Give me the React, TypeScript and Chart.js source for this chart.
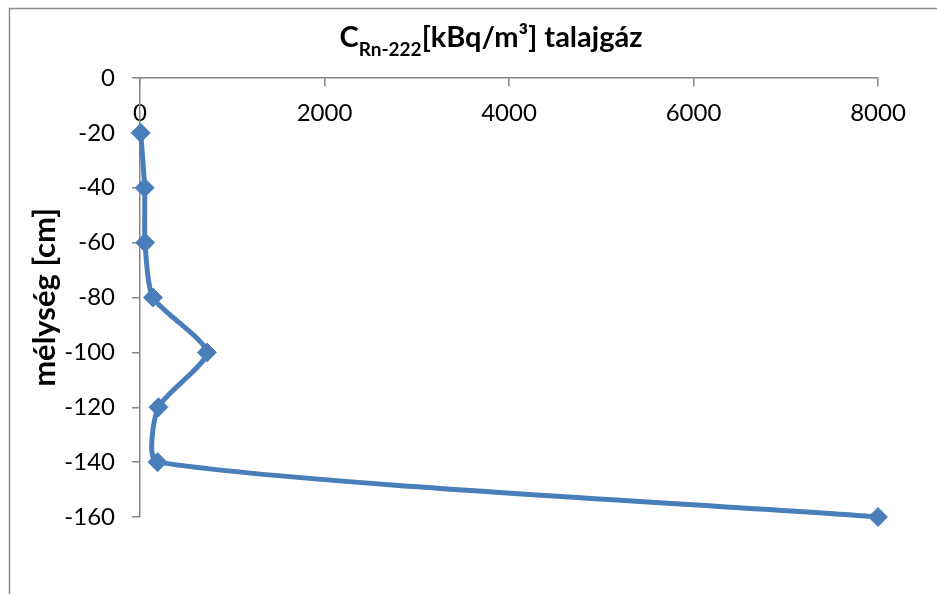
import { useEffect, useRef } from "react";
import { Chart, registerables } from "chart.js";

Chart.register(...registerables);

// ---- data ----
const depthsCm: number[] = [-20, -40, -60, -80, -100, -120, -140, -160];
const radonKBq: number[] = [8, 50, 55, 140, 725, 200, 190, 8000];
const xTickValues: number[] = [0, 2000, 4000, 6000, 8000];
const yTickValues: number[] = [0, -20, -40, -60, -80, -100, -120, -140, -160];
const titleMain = "C";
const titleSub = "Rn-222";
const titleRest = "[kBq/m³] talajgáz";
const yAxisTitle = "mélység [cm]";

const FONT = "Lato, 'Open Sans', sans-serif";
const LINE_BLUE = "#4a7ebb";
const AXIS_GRAY = "#868686";

const framePlugin = {
  id: "frame",
  beforeDraw(chart: any) {
    const ctx = chart.ctx;
    ctx.save();
    ctx.fillStyle = "#ffffff";
    ctx.fillRect(0, 0, chart.width, chart.height);
    ctx.strokeStyle = "#8c8c8c";
    ctx.lineWidth = 1.5;
    ctx.beginPath();
    ctx.moveTo(chart.width + 5, 8.5);
    ctx.lineTo(9.5, 8.5);
    ctx.lineTo(9.5, chart.height + 5);
    ctx.stroke();
    ctx.restore();
  },
};

const titlePlugin = {
  id: "subscriptTitle",
  afterDraw(chart: any) {
    const ctx = chart.ctx;
    ctx.save();
    const big = `bold 29px ${FONT}`;
    const small = `bold 19px ${FONT}`;
    ctx.font = big;
    const w1 = ctx.measureText(titleMain).width;
    const w3 = ctx.measureText(titleRest).width;
    ctx.font = small;
    const w2 = ctx.measureText(titleSub).width;
    const total = w1 + w2 + w3;
    let x = 491 - total / 2;
    ctx.fillStyle = "#000000";
    ctx.textBaseline = "alphabetic";
    ctx.textAlign = "left";
    ctx.font = big;
    ctx.fillText(titleMain, x, 47);
    x += w1;
    ctx.font = small;
    ctx.fillText(titleSub, x, 56);
    x += w2;
    ctx.font = big;
    ctx.fillText(titleRest, x, 47);
    ctx.restore();
  },
};

export default function App() {
  const canvasRef = useRef<HTMLCanvasElement | null>(null);

  useEffect(() => {
    if (!canvasRef.current) return;
    const points = depthsCm.map((d, i) => ({ x: radonKBq[i], y: d }));
    const chart = new Chart(canvasRef.current, {
      type: "scatter",
      data: {
        datasets: [
          {
            label: "C Rn-222",
            data: points,
            showLine: true,
            borderColor: LINE_BLUE,
            backgroundColor: LINE_BLUE,
            borderWidth: 5,
            tension: 0.22,
            pointStyle: "rectRot",
            pointRadius: 9.5,
            pointHoverRadius: 9.5,
            pointBackgroundColor: LINE_BLUE,
            pointBorderColor: LINE_BLUE,
            pointBorderWidth: 1,
            clip: false,
          } as any,
        ],
      },
      options: {
        responsive: false,
        animation: false,
        events: [],
        layout: { padding: { top: 78, right: 59, bottom: 77, left: 0 } },
        plugins: {
          legend: { display: false },
          title: { display: false },
          tooltip: { enabled: false },
        },
        scales: {
          x: {
            type: "linear",
            position: { y: 0 } as any,
            min: 0,
            max: 8000,
            afterBuildTicks: (scale: any) => {
              scale.ticks = xTickValues.map((v) => ({ value: v }));
            },
            afterFit: (scale: any) => {
              scale.paddingLeft = 0;
              scale.paddingRight = 0;
            },
            grid: {
              drawOnChartArea: false,
              drawTicks: true,
              tickLength: 8,
              color: AXIS_GRAY,
              lineWidth: 1.5,
            },
            border: { display: true, color: AXIS_GRAY, width: 1.5 },
            ticks: {
              padding: 13,
              color: "#000000",
              font: { family: FONT, size: 24 },
              maxRotation: 0,
              callback: (v: any) => String(v),
            },
          },
          y: {
            type: "linear",
            position: "left",
            min: -160,
            max: 0,
            afterBuildTicks: (scale: any) => {
              scale.ticks = yTickValues.map((v) => ({ value: v }));
            },
            afterFit: (scale: any) => {
              scale.width = 140;
              scale.paddingTop = 0;
              scale.paddingBottom = 0;
            },
            grid: {
              drawOnChartArea: false,
              drawTicks: true,
              tickLength: 8,
              color: AXIS_GRAY,
              lineWidth: 1.5,
            },
            border: { display: true, color: AXIS_GRAY, width: 1.5 },
            ticks: {
              padding: 17,
              color: "#000000",
              font: { family: FONT, size: 24 },
              callback: (v: any) => String(v),
            },
            title: {
              display: true,
              text: yAxisTitle,
              color: "#000000",
              font: { family: FONT, size: 31, weight: "bold" },
              padding: { top: 26, bottom: 0 },
            },
          },
        },
      },
      plugins: [framePlugin, titlePlugin],
    });
    return () => chart.destroy();
  }, []);

  return (
    <div style={{ position: "fixed", left: 0, top: 0, width: 937, height: 594, background: "#fff" }}>
      <canvas ref={canvasRef} width={937} height={594} style={{ width: 937, height: 594, display: "block" }} />
    </div>
  );
}
